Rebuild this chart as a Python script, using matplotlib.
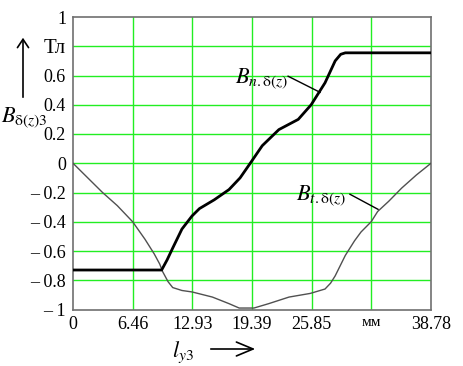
import matplotlib
matplotlib.use("Agg")
import matplotlib.pyplot as plt

bn_x = [0, 9.6, 10.2, 10.8, 11.8, 12.9, 13.7, 15.3, 16.9, 18.1, 19.2, 20.5, 22.3, 24.4, 25.8, 27.3, 28.4, 29.0, 29.5, 38.78]
bn_y = [-0.73, -0.73, -0.66, -0.58, -0.45, -0.36, -0.31, -0.25, -0.18, -0.10, 0.0, 0.12, 0.23, 0.30, 0.40, 0.55, 0.70, 0.745, 0.755, 0.755]

bt_x = [0, 1.6, 3.2, 4.8, 6.46, 7.8, 8.8, 9.4, 9.7, 10.3, 10.8, 11.8, 12.9, 15.1, 16.9, 18.0, 19.6, 21.2, 23.4, 25.7, 27.3, 27.9, 28.4, 29.5, 30.5, 31.2, 32.3, 33.0, 34.2, 35.6, 37.2, 38.78]
bt_y = [0, -0.1, -0.2, -0.29, -0.40, -0.52, -0.62, -0.69, -0.74, -0.81, -0.85, -0.87, -0.88, -0.915, -0.96, -0.99, -0.99, -0.96, -0.915, -0.89, -0.86, -0.82, -0.77, -0.63, -0.53, -0.47, -0.40, -0.33, -0.26, -0.17, -0.08, 0]

x_ticks = [0, 6.46, 12.93, 19.39, 25.85, 32.32, 38.78]
x_labels = ["0", "6.46", "12.93", "19.39", "25.85", "мм", "38.78"]
y_ticks = [1, 0.8, 0.6, 0.4, 0.2, 0, -0.2, -0.4, -0.6, -0.8, -1]
y_labels = ["1", "Тл", "0.6", "0.4", "0.2", "0", "– 0.2", "– 0.4", "– 0.6", "– 0.8", "– 1"]

plt.rcParams['font.family'] = ['Liberation Serif', 'DejaVu Serif']
plt.rcParams['mathtext.fontset'] = 'stix'

fig = plt.figure(figsize=(4.64, 3.66), dpi=100)
W, H = 464, 366
ax = fig.add_axes([73 / W, 1 - 309.5 / H, 358 / W, 292.5 / H])
ax.set_xlim(0, 38.78)
ax.set_ylim(-1, 1)

for t in x_ticks[1:-1]:
    ax.axvline(t, color="#22ee22", lw=1, zorder=1)
for t in y_ticks[1:-1]:
    ax.axhline(t, color="#22ee22", lw=1, zorder=1)

ax.plot(bt_x, bt_y, color="#505050", lw=1.0, zorder=3)
ax.plot(bn_x, bn_y, color="black", lw=2.0, zorder=4, solid_joinstyle="round")

for s in ax.spines.values():
    s.set_color("#707070")
    s.set_linewidth(1.2)

ax.set_xticks(x_ticks)
ax.set_xticklabels(x_labels)
ax.set_yticks(y_ticks)
ax.set_yticklabels(y_labels)
ax.tick_params(length=0, labelsize=13, pad=5)
for lab in ax.get_xticklabels():
    if lab.get_text() == "мм":
        lab.set_fontsize(11)
for lab in ax.get_yticklabels():
    if lab.get_text() == "Тл":
        lab.set_fontsize(15)

# annotations
ax.text(20.4, 0.58, r"$B_{n.\mathrm{\delta}(z)}$", fontsize=16, ha="center", va="center", zorder=5)
ax.plot([23.3, 26.76], [0.595, 0.485], color="black", lw=1, zorder=5)
ax.text(26.9, -0.22, r"$B_{t.\mathrm{\delta}(z)}$", fontsize=16, ha="center", va="center", zorder=5)
ax.plot([30.0, 33.04], [-0.212, -0.315], color="black", lw=1, zorder=5)

# axis labels
fig.text(1 / W, 1 - 118 / H, r"$B_{\mathrm{\delta}(z)3}$", fontsize=16, ha="left", va="center")
fig.add_artist(matplotlib.patches.FancyArrowPatch((23 / W, 1 - 100 / H), (23 / W, 1 - 35 / H),
               transform=fig.transFigure, arrowstyle="->,head_length=6,head_width=4", color="black", lw=1.2, mutation_scale=1))
fig.text(183 / W, 1 - 352 / H, r"$l_{y3}$", fontsize=16, ha="center", va="center")
fig.add_artist(matplotlib.patches.FancyArrowPatch((208 / W, 1 - 349 / H), (258 / W, 1 - 349 / H),
               transform=fig.transFigure, arrowstyle="->,head_length=12,head_width=5", color="black", lw=1.2, mutation_scale=1))

fig.savefig("out.png", dpi=100)
